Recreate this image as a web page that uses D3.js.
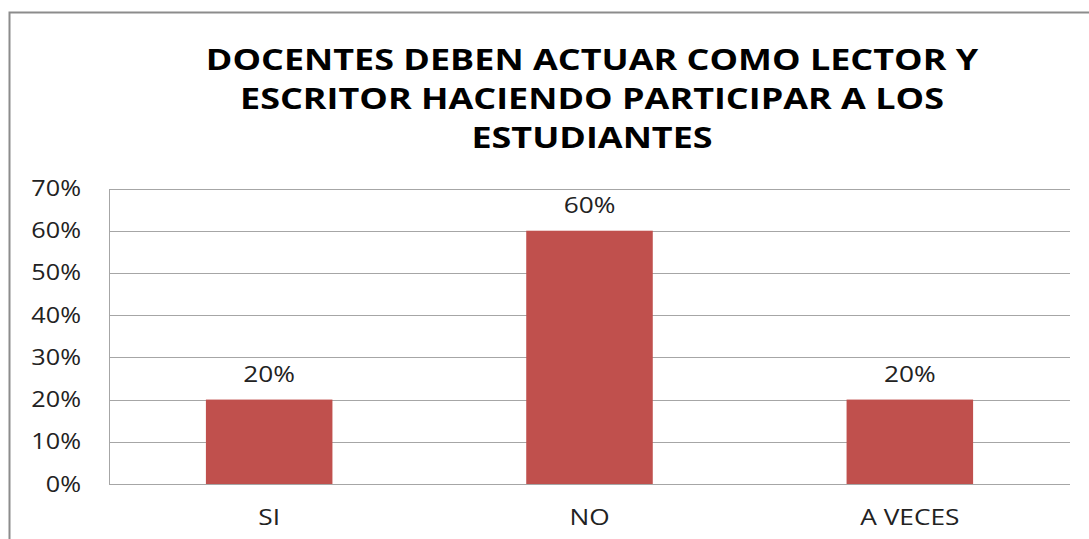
<!DOCTYPE html>
<html>
<head>
<meta charset="utf-8">
<script src="https://cdn.jsdelivr.net/npm/d3@7"></script>
<style>
  body { margin: 0; background: #fff; }
  svg { display: block; font-family: "Open Sans", sans-serif; }
</style>
</head>
<body>
<svg width="1089" height="539"></svg>
<script>

var categories = ["SI", "NO", "A VECES"];
var values = [0.20, 0.60, 0.20];
var yTicks = [0, 0.1, 0.2, 0.3, 0.4, 0.5, 0.6, 0.7];
var titleLines = [
  "DOCENTES DEBEN ACTUAR COMO LECTOR Y",
  "ESCRITOR HACIENDO PARTICIPAR A LOS",
  "ESTUDIANTES"
];

var svg = d3.select("svg"),
    width = +svg.attr("width"),
    height = +svg.attr("height"),
    margin = {top: 188.5, right: 19, bottom: 55, left: 109};

var pct = d3.format(".0%");

// the original picture is stretched sideways, so text gets a horizontal scale
function stretch(px, py, sx) {
  return "translate(" + px + "," + py + ") scale(" + sx + ",1)";
}

// outer frame
svg.append("rect")
    .attr("x", 9.5).attr("y", 12.5)
    .attr("width", width).attr("height", height)
    .attr("fill", "#fff")
    .attr("stroke", "#8c8c8c")
    .attr("stroke-width", 2);

// title
svg.append("g")
  .selectAll("text")
  .data(titleLines)
  .enter().append("text")
    .attr("transform", function(d, i) { return stretch(592, 69.5 + i * 39, 1.24); })
    .attr("text-anchor", "middle")
    .attr("font-weight", "bold")
    .attr("font-size", 29)
    .attr("fill", "#000")
    .text(function(d) { return d; });

var x = d3.scaleBand()
    .domain(categories)
    .range([margin.left, width - margin.right])
    .paddingInner(0.605)
    .paddingOuter(0.3025);

var y = d3.scaleLinear()
    .domain([0, 0.7])
    .range([484, margin.top]);

// gridlines
svg.append("g")
  .selectAll("line")
  .data(yTicks)
  .enter().append("line")
    .attr("x1", margin.left)
    .attr("x2", width - margin.right)
    .attr("y1", function(d) { return Math.round(y(d)) + 0.5; })
    .attr("y2", function(d) { return Math.round(y(d)) + 0.5; })
    .attr("stroke", "#a6a6a6")
    .attr("stroke-width", 1);

// y axis line
svg.append("line")
    .attr("x1", margin.left + 0.5).attr("x2", margin.left + 0.5)
    .attr("y1", Math.round(y(0.7)) + 0.5).attr("y2", Math.round(y(0)) + 0.5)
    .attr("stroke", "#a6a6a6");

// y tick labels
svg.append("g")
  .selectAll("text")
  .data(yTicks)
  .enter().append("text")
    .attr("transform", function(d) { return stretch(81, y(d), 1.2); })
    .attr("dy", "0.36em")
    .attr("text-anchor", "end")
    .attr("font-size", 21)
    .attr("fill", "#222")
    .text(function(d) { return pct(d); });

// bars
svg.append("g")
  .selectAll("rect")
  .data(values)
  .enter().append("rect")
    .attr("x", function(d, i) { return x(categories[i]); })
    .attr("y", function(d) { return y(d); })
    .attr("width", x.bandwidth())
    .attr("height", function(d) { return y(0) - y(d); })
    .attr("fill", "#c0504d");

// value labels
svg.append("g")
  .selectAll("text")
  .data(values)
  .enter().append("text")
    .attr("transform", function(d, i) {
      return stretch(x(categories[i]) + x.bandwidth() / 2, y(d) - 18, 1.25);
    })
    .attr("text-anchor", "middle")
    .attr("font-size", 21)
    .attr("fill", "#222")
    .text(function(d) { return pct(d); });

// category labels
svg.append("g")
  .selectAll("text")
  .data(categories)
  .enter().append("text")
    .attr("transform", function(d) { return stretch(x(d) + x.bandwidth() / 2, 524.5, 1.25); })
    .attr("text-anchor", "middle")
    .attr("font-size", 21)
    .attr("fill", "#222")
    .text(function(d) { return d; });

</script>
</body>
</html>
